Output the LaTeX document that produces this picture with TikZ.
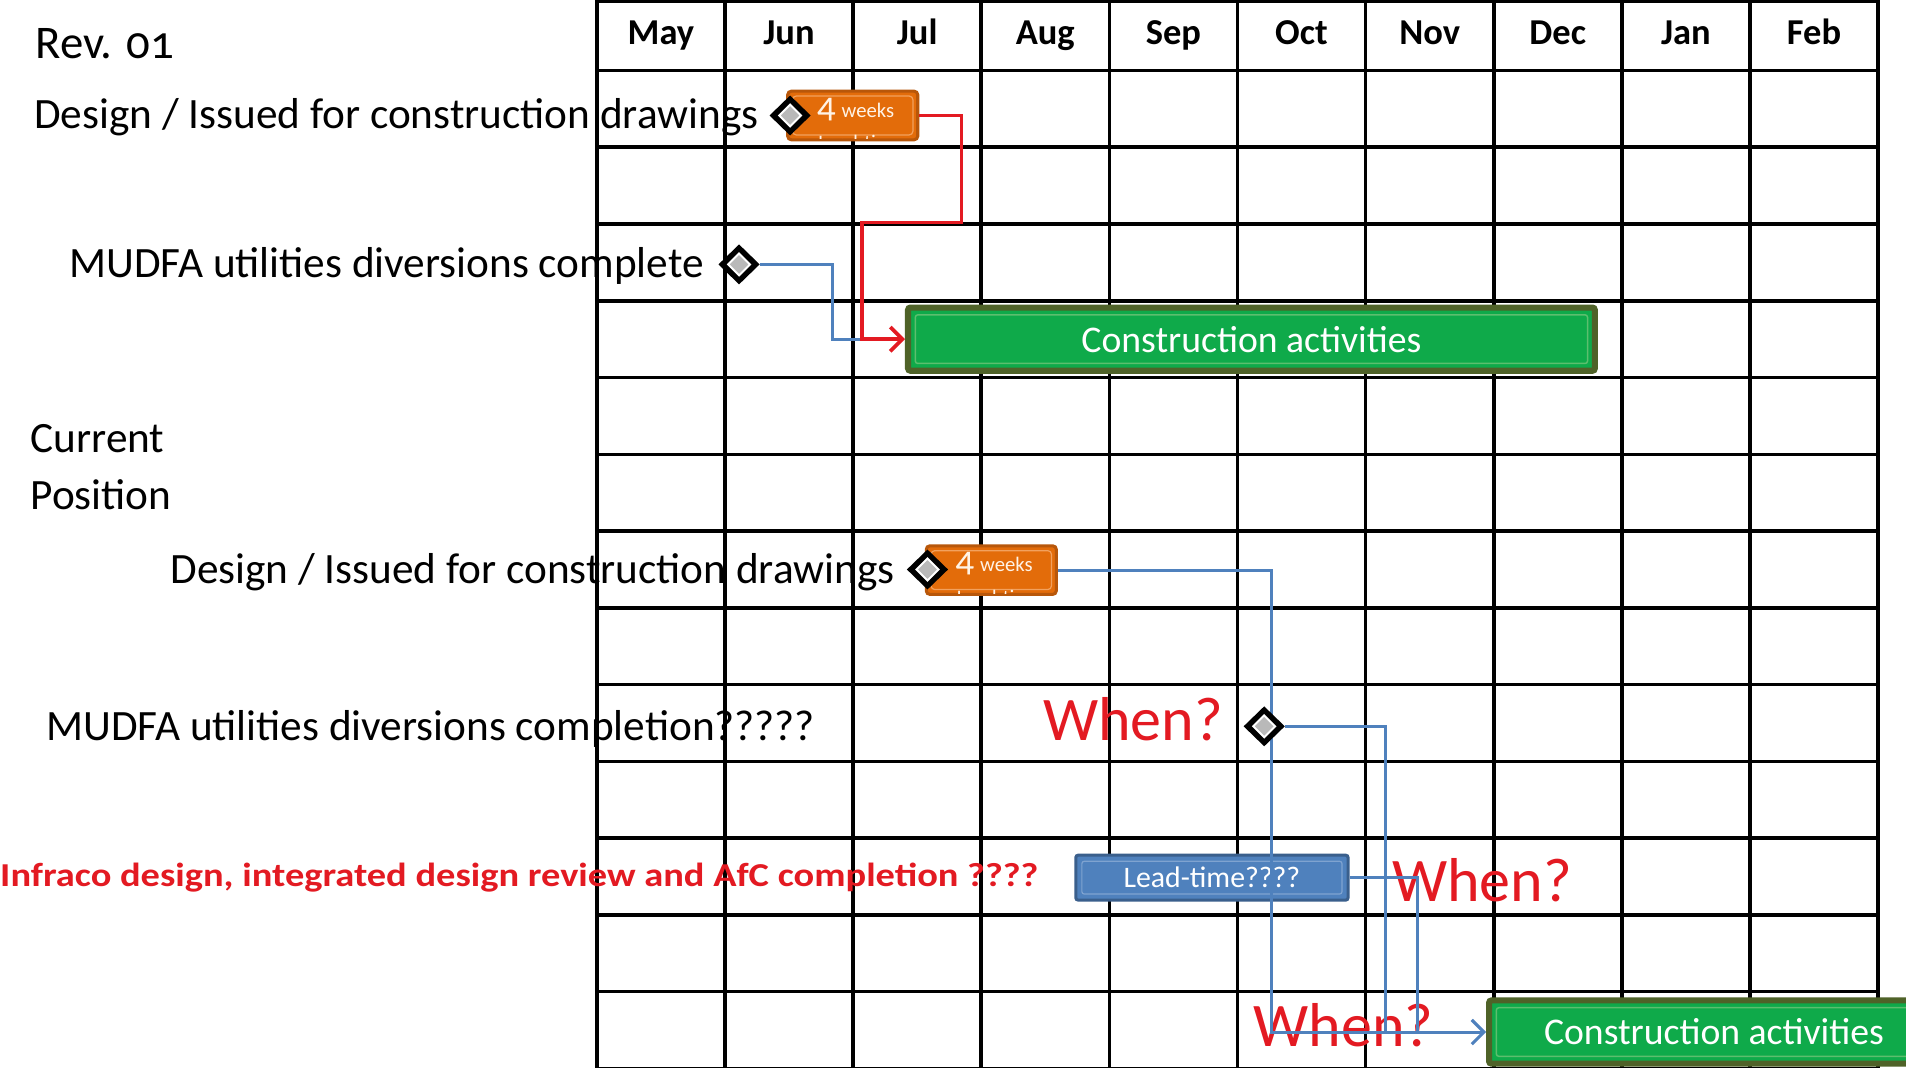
\documentclass[tikz,border=0pt]{standalone}
\usepackage{fontspec}
\setmainfont{Carlito}
\newfontfamily\oldnum{Carlito}[Numbers=OldStyle]
\newfontfamily\widebold{Carlito}[FakeStretch=1.15]
\usetikzlibrary{shapes.geometric,arrows.meta,calc}
\pgfdeclarelayer{conn}
\pgfdeclarelayer{top}
\pgfsetlayers{main,conn,top}
\definecolor{redc}{HTML}{E31A22}
\definecolor{bluec}{HTML}{4F81BD}
\definecolor{blueb}{HTML}{3A5F8C}
\definecolor{bluei}{HTML}{7FA3D0}
\definecolor{orangec}{HTML}{E36C0A}
\definecolor{orangeb}{HTML}{B8570A}
\definecolor{orangei}{HTML}{F2A15E}
\definecolor{greenc}{HTML}{0FAA4A}
\definecolor{greenb}{HTML}{4F6228}
\definecolor{greeni}{HTML}{5DBE6E}
\definecolor{cream}{HTML}{FFF3E6}
\tikzset{
  gridline/.style={line width=3pt,black,line cap=rect},
  lbl/.style={anchor=base west,inner sep=0pt,font=\fontsize{35.6}{40}\selectfont},
  hdr/.style={anchor=base,inner sep=0pt,font=\bfseries\fontsize{30}{32}\selectfont},
  whentxt/.style={anchor=base west,inner sep=0pt,text=redc,font=\fontsize{51}{56}\selectfont},
  infr/.style={anchor=base west,inner sep=0pt,text=redc,font=\widebold\bfseries\fontsize{27.5}{30}\selectfont},
  milestone/.style={diamond,fill=black,minimum width=34pt,minimum height=33pt,inner sep=0pt,
    path picture={\draw[white,line width=1.6pt,fill=gray!55]
      ($(path picture bounding box.center)+(-9,0)$) -- ++(9,-9) -- ++(9,9) -- ++(-9,9) -- cycle;}},
  obox/.style={rectangle,rounded corners=3pt,fill=orangec,draw=orangeb,line width=2.5pt,
    minimum width=107pt,minimum height=40pt,inner sep=0pt,
    path picture={\draw[orangei,line width=1pt]
      ($(path picture bounding box.north west)+(4,4)$) rectangle ($(path picture bounding box.south east)+(-4,-4)$);}},
  otext/.style={anchor=base west,inner sep=0pt,text=cream},
  gbox/.style={rectangle,rounded corners=2pt,fill=greenc,draw=greenb,line width=5pt,
    minimum height=52pt,inner sep=0pt,text=white,font=\fontsize{31}{34}\selectfont,
    path picture={\draw[greeni,line width=1.2pt]
      ($(path picture bounding box.north west)+(6,6)$) rectangle ($(path picture bounding box.south east)+(-6,-6)$);}},
  bbox/.style={rectangle,rounded corners=2pt,fill=bluec,draw=blueb,line width=2.5pt,
    minimum width=224pt,minimum height=37pt,inner sep=0pt,text=white,font=\fontsize{24.5}{28}\selectfont,
    path picture={\draw[bluei,line width=1pt]
      ($(path picture bounding box.north west)+(5,5)$) rectangle ($(path picture bounding box.south east)+(-5,-5)$);}},
  redln/.style={draw=redc,line width=3pt},
  blueln/.style={draw=bluec,line width=2.5pt},
  tip/.style={-{Straight Barb[length=10pt,width=20pt]}}
}
\begin{document}
\begin{tikzpicture}[x=1pt,y=-1pt]
\clip (0,0) rectangle (1568,878.6);
\fill[white] (0,0) rectangle (1568,878.6);
% grid
\foreach \i in {0,...,10} \draw[gridline] ({491+105.4*\i},1) -- ({491+105.4*\i},880);
\draw[gridline] (491,1) -- (1545,1);
\foreach \k in {0,...,13} \draw[gridline] (491,{58+63.15*\k}) -- (1545,{58+63.15*\k});
% month headers
\foreach \m [count=\i from 0] in {May,Jun,Jul,Aug,Sep,Oct,Nov,Dec,Jan,Feb}
  \node[hdr] (h\i) at ({491+105.4*\i+52.7},37) {\m};
% left labels
\node[lbl,font=\oldnum\fontsize{38.5}{42}\selectfont] (rev) at (29,48) {Rev. 01};
\node[lbl] (t1) at (28,106) {Design / Issued for construction drawings};
\node[lbl] (t2) at (57,228) {MUDFA utilities diversions complete};
\node[lbl] (cur) at (25,372) {Current};
\node[lbl] (pos) at (25,419) {Position};
\node[lbl] (t4) at (140,480) {Design / Issued for construction drawings};
\node[lbl] (t5) at (38,609) {MUDFA utilities diversions completion?????};
\node[infr] (t6) at (0,729) {Infraco design, integrated design review and AfC completion ????};
% when labels
\node[whentxt] (w1) at (858,609) {When?};
\node[whentxt] (w2) at (1145,742) {When?};
\node[whentxt] (w3) at (1031,861) {When?};
% bars
\node[obox] (o1) at (701.5,95) {};
\node[otext] (o1t) at (672,96.5) {{\oldnum\fontsize{30}{30}\selectfont 4}\hspace{5pt}{\fontsize{17}{17}\selectfont weeks}};
\begin{scope}
  \clip ($(o1.south west)+(2,-2)$) rectangle ($(o1.north east)+(-2,2)$);
  \node[otext,font=\fontsize{17}{17}\selectfont] (o1l) at (673,123) {Lead-time};
\end{scope}
\node[obox] (o2) at (815.5,469) {};
\node[otext] (o2t) at (786,470.5) {{\oldnum\fontsize{30}{30}\selectfont 4}\hspace{5pt}{\fontsize{17}{17}\selectfont weeks}};
\begin{scope}
  \clip ($(o2.south west)+(2,-2)$) rectangle ($(o2.north east)+(-2,2)$);
  \node[otext,font=\fontsize{17}{17}\selectfont] (o2l) at (787,497) {Lead-time};
\end{scope}
\node[gbox,minimum width=565pt] (g1) at (1029.5,279) {Construction activities};
\node[gbox,minimum width=370pt] (g2) at (1410,849) {Construction activities};
\node[bbox] (lt) at (997,722) {Lead-time????};
% milestones
\begin{pgfonlayer}{top}
\node[milestone] (m1) at (650,95) {};
\node[milestone] (m2) at (608,217.5) {};
\node[milestone] (m3) at (763,468.5) {};
\node[milestone] (m4) at (1040,597.5) {};
\end{pgfonlayer}
% connectors
\begin{pgfonlayer}{conn}
\coordinate (j1) at (709,279);
\draw[blueln] (m2.east) -| (685,279) -- (j1);
\draw[redln,tip] (o1.east) -| (791,183) -| (j1) -- (g1.west);
\draw[blueln,tip] (o2.east) -| (1046,849) -- (g2.west);
\draw[blueln] (m4.east) -| (1140,849);
\draw[blueln] (lt.east) -| (1166,849);
\end{pgfonlayer}
\end{tikzpicture}
\end{document}
